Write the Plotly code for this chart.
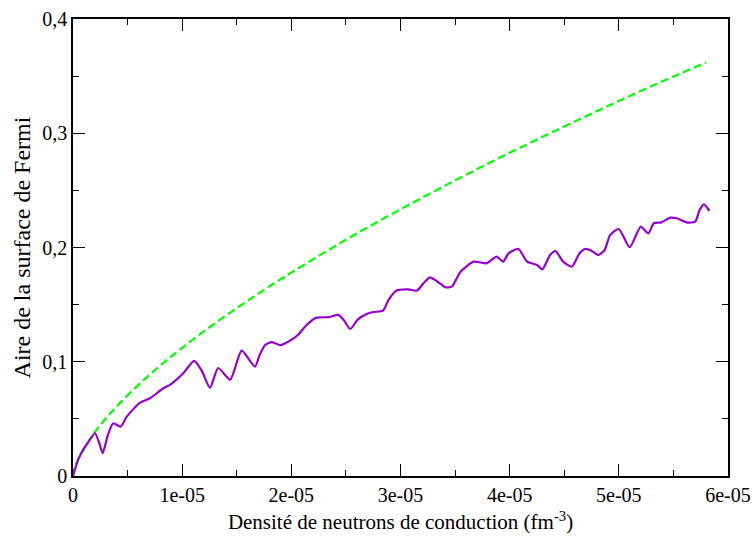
import plotly.graph_objects as go

# Purple series (density in fm^-3, area)
purple_x_e6 = [0, 0.5, 1.0, 1.5, 2.02, 2.4, 2.72, 3.2, 3.69, 4.37, 4.92, 6.14, 7.05, 8.27, 8.88,
               10.1, 11.1, 11.8, 12.55, 13.3, 14.4, 15.45, 16.67, 17.1, 17.6, 18.2, 19.0, 19.9,
               20.6, 21.4, 22.3, 23.4, 24.3, 24.8, 25.4, 26.1, 26.9, 27.5, 28.4, 28.9, 29.6,
               30.7, 31.5, 32.1, 32.7, 33.6, 34.1, 34.7, 35.5, 36.7, 37.9, 38.8, 39.4, 39.9,
               40.8, 41.6, 42.5, 43.0, 43.7, 44.2, 44.9, 45.7, 46.4, 46.9, 47.5, 48.1, 48.7,
               49.2, 50.0, 51.0, 52.0, 52.7, 53.2, 53.9, 54.7, 55.3, 56.2, 57.0, 57.4, 57.8, 58.3]
purple_y = [0, 0.015, 0.024, 0.031, 0.0374, 0.029, 0.020, 0.036, 0.0461, 0.0432, 0.0519, 0.0642,
            0.068, 0.0768, 0.0797, 0.0899, 0.1007, 0.092, 0.0772, 0.0945, 0.0843, 0.1097, 0.0957,
            0.106, 0.1147, 0.1172, 0.1145, 0.1186, 0.1234, 0.1322, 0.1386, 0.139, 0.141, 0.1365,
            0.1287, 0.1371, 0.1418, 0.1435, 0.1447, 0.154, 0.1622, 0.1634, 0.1622, 0.1686, 0.1739,
            0.1686, 0.1652, 0.1657, 0.1788, 0.1876, 0.1862, 0.192, 0.1876, 0.1949, 0.1987, 0.1876,
            0.1847, 0.1809, 0.1934, 0.1969, 0.1876, 0.1832, 0.1949, 0.1987, 0.1972, 0.1934, 0.1978,
            0.2109, 0.2162, 0.2002, 0.2182, 0.2124, 0.2212, 0.222, 0.2261, 0.2256, 0.222, 0.2226,
            0.2328, 0.2378, 0.232]

# Green dashed series
green_x_e6 = [0, 0.1, 0.25, 0.5, 1.0, 2.0, 3.0, 4.0, 6.0, 8.0, 10.0, 12.5, 15.0, 17.5, 20.0, 25.0, 30.0,
              35.0, 40.0, 45.0, 50.0, 55.0, 58.0]
green_y = [0, 0.0052, 0.0096, 0.0152, 0.0242, 0.0384, 0.0503, 0.0609, 0.0798, 0.0967, 0.1122,
           0.1302, 0.147, 0.1629, 0.178, 0.2068, 0.2334, 0.2587, 0.2829, 0.3059, 0.3282, 0.3497, 0.362]

x_ticks = [0, 1e-05, 2e-05, 3e-05, 4e-05, 5e-05, 6e-05]
x_tick_labels = ["0", "1e-05", "2e-05", "3e-05", "4e-05", "5e-05", "6e-05"]
y_ticks = [0, 0.1, 0.2, 0.3, 0.4]
y_tick_labels = ["0", "0,1", "0,2", "0,3", "0,4"]

FONT = "Liberation Serif, Times New Roman, serif"

fig = go.Figure()
fig.add_trace(go.Scatter(
    x=[v * 1e-6 for v in green_x_e6], y=green_y, mode="lines",
    line=dict(color="#00FF00", width=2.2, dash="8px,4px", shape="spline"),
    showlegend=False, hoverinfo="skip"))
fig.add_trace(go.Scatter(
    x=[v * 1e-6 for v in purple_x_e6], y=purple_y, mode="lines",
    line=dict(color="#9400D3", width=2.2, shape="spline", smoothing=0.6),
    showlegend=False, hoverinfo="skip"))

axis_common = dict(
    showgrid=False, zeroline=False, showline=True, linecolor="black", linewidth=1.5,
    mirror="allticks", ticks="inside", ticklen=12, tickwidth=1, tickcolor="black",
    tickfont=dict(family=FONT, size=20, color="black"), automargin=False,
)

fig.update_xaxes(
    range=[0, 6e-05], tickmode="array", tickvals=x_ticks, ticktext=x_tick_labels,
    minor=dict(ticks="inside", ticklen=6, tickcolor="black", dtick=5e-06, showgrid=False),
    title=dict(text="Densité de neutrons de conduction (fm<sup>-3</sup>)",
               font=dict(family=FONT, size=21, color="black"), standoff=10),
    **axis_common)
fig.update_yaxes(
    range=[0, 0.4], tickmode="array", tickvals=y_ticks, ticktext=y_tick_labels,
    minor=dict(ticks="inside", ticklen=6, tickcolor="black", dtick=0.05, showgrid=False),
    title=dict(text="Aire de la surface de Fermi",
               font=dict(family=FONT, size=24, color="black"), standoff=5),
    **axis_common)

fig.update_layout(
    width=755, height=538,
    margin=dict(l=73, r=27, t=19, b=62, autoexpand=False),
    plot_bgcolor="white", paper_bgcolor="white",
    font=dict(family=FONT, color="black"),
)

fig.write_html(
    "out.html",
    config={"displayModeBar": False},
    post_script="document.body.style.margin='0';document.body.style.overflow='hidden';",
)
